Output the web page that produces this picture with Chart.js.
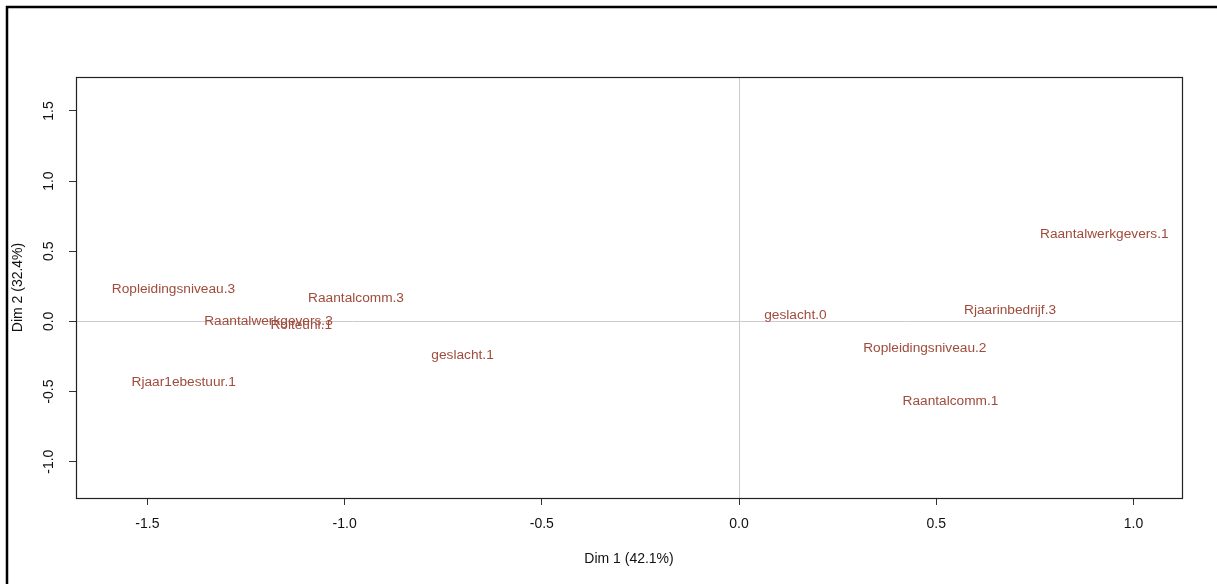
<!DOCTYPE html>
<html>
<head>
<meta charset="utf-8">
<script src="https://cdn.jsdelivr.net/npm/chart.js@4/dist/chart.umd.min.js"></script>
<style>
  html, body { margin: 0; padding: 0; background: #ffffff; }
  canvas { display: block; }
</style>
</head>
<body>
<canvas id="mca" width="1217" height="584"></canvas>
<script>
// Category coordinates on the first two MCA dimensions
const categories = [
  'Ropleidingsniveau.3',
  'Raantalcomm.3',
  'Raantalwerkgevers.3',
  'Rolteuni.1',
  'geslacht.1',
  'Rjaar1ebestuur.1',
  'geslacht.0',
  'Rjaarinbedrijf.3',
  'Ropleidingsniveau.2',
  'Raantalcomm.1',
  'Raantalwerkgevers.1'
];
const dim1 = [-1.434, -0.971, -1.193, -1.110, -0.701, -1.408, 0.143, 0.687, 0.471, 0.536, 0.926];
const dim2 = [0.241, 0.172, 0.009, -0.019, -0.232, -0.422, 0.049, 0.088, -0.184, -0.564, 0.630];

const xTickValues = [-1.5, -1.0, -0.5, 0.0, 0.5, 1.0];
const yTickValues = [-1.0, -0.5, 0.0, 0.5, 1.0, 1.5];
const xLimits = [-1.681, 1.123];
const yLimits = [-1.259, 1.742];
const xTitle = 'Dim 1 (42.1%)';
const yTitle = 'Dim 2 (32.4%)';

const FONT = "'Liberation Sans', Arial, sans-serif";
const labelColor = '#A04B3C';
const labelSize = 13.7;
const axisFont = { family: FONT, size: 14 };

// Outer frame line along the top and left edges
const framePlugin = {
  id: 'frame',
  beforeDraw(chart) {
    const ctx = chart.ctx;
    ctx.save();
    ctx.fillStyle = '#ffffff';
    ctx.fillRect(0, 0, chart.width, chart.height);
    ctx.strokeStyle = '#000000';
    ctx.lineWidth = 2.5;
    ctx.beginPath();
    ctx.moveTo(7, chart.height);
    ctx.lineTo(7, 7);
    ctx.lineTo(chart.width, 7);
    ctx.stroke();
    ctx.restore();
  }
};

// Category names centred on their coordinates, plus the box around the plot
const labelPlugin = {
  id: 'categoryLabels',
  afterDatasetsDraw(chart) {
    const ctx = chart.ctx;
    const meta = chart.getDatasetMeta(0);
    ctx.save();
    ctx.font = labelSize + 'px ' + FONT;
    ctx.fillStyle = labelColor;
    ctx.textAlign = 'center';
    ctx.textBaseline = 'alphabetic';
    // centre the capital height on the point
    const capShift = labelSize * 0.36;
    meta.data.forEach((pt, i) => {
      ctx.fillText(categories[i], pt.x, pt.y + capShift);
    });
    ctx.restore();
  },
  afterDraw(chart) {
    const a = chart.chartArea;
    const ctx = chart.ctx;
    ctx.save();
    ctx.strokeStyle = '#222222';
    ctx.lineWidth = 1.2;
    ctx.strokeRect(Math.round(a.left) + 0.5, Math.round(a.top) + 0.5,
                   Math.round(a.right - a.left), Math.round(a.bottom - a.top));
    ctx.restore();
  }
};

const zeroLine = (ctx) => (ctx.tick && ctx.tick.value === 0) ? '#cccccc' : 'rgba(0,0,0,0)';

new Chart(document.getElementById('mca'), {
  type: 'scatter',
  data: {
    datasets: [{
      data: dim1.map((x, i) => ({ x: x, y: dim2[i] })),
      pointRadius: 0,
      pointHoverRadius: 0,
      showLine: false
    }]
  },
  options: {
    responsive: false,
    animation: false,
    events: [],
    layout: { padding: { top: 77, right: 35, bottom: 0, left: 0 } },
    plugins: {
      legend: { display: false },
      tooltip: { enabled: false },
      title: { display: false }
    },
    scales: {
      x: {
        type: 'linear',
        min: xLimits[0],
        max: xLimits[1],
        afterBuildTicks: (s) => { s.ticks = xTickValues.map(v => ({ value: v })); },
        afterFit: (s) => { s.height = 86; },
        border: { display: false },
        grid: {
          color: zeroLine,
          lineWidth: 1,
          drawTicks: true,
          tickLength: 7,
          tickColor: '#333333',
          tickWidth: 1
        },
        ticks: {
          font: axisFont,
          color: '#111111',
          padding: 11,
          maxRotation: 0,
          minRotation: 0,
          callback: (v) => Number(v).toFixed(1)
        },
        title: {
          display: true,
          text: xTitle,
          font: axisFont,
          color: '#111111',
          padding: { top: 0, bottom: 16 }
        }
      },
      y: {
        type: 'linear',
        min: yLimits[0],
        max: yLimits[1],
        afterBuildTicks: (s) => { s.ticks = yTickValues.map(v => ({ value: v })); },
        afterFit: (s) => { s.width = 76; },
        border: { display: false },
        grid: {
          color: zeroLine,
          lineWidth: 1,
          drawTicks: true,
          tickLength: 7,
          tickColor: '#333333',
          tickWidth: 1
        },
        ticks: {
          font: axisFont,
          color: '#111111',
          padding: 8,
          minRotation: 90,
          maxRotation: 90,
          crossAlign: 'center',
          callback: (v) => Number(v).toFixed(1)
        },
        title: {
          display: true,
          text: yTitle,
          font: axisFont,
          color: '#111111',
          padding: { top: 10, bottom: 0 }
        }
      }
    }
  },
  plugins: [framePlugin, labelPlugin]
});
</script>
</body>
</html>
